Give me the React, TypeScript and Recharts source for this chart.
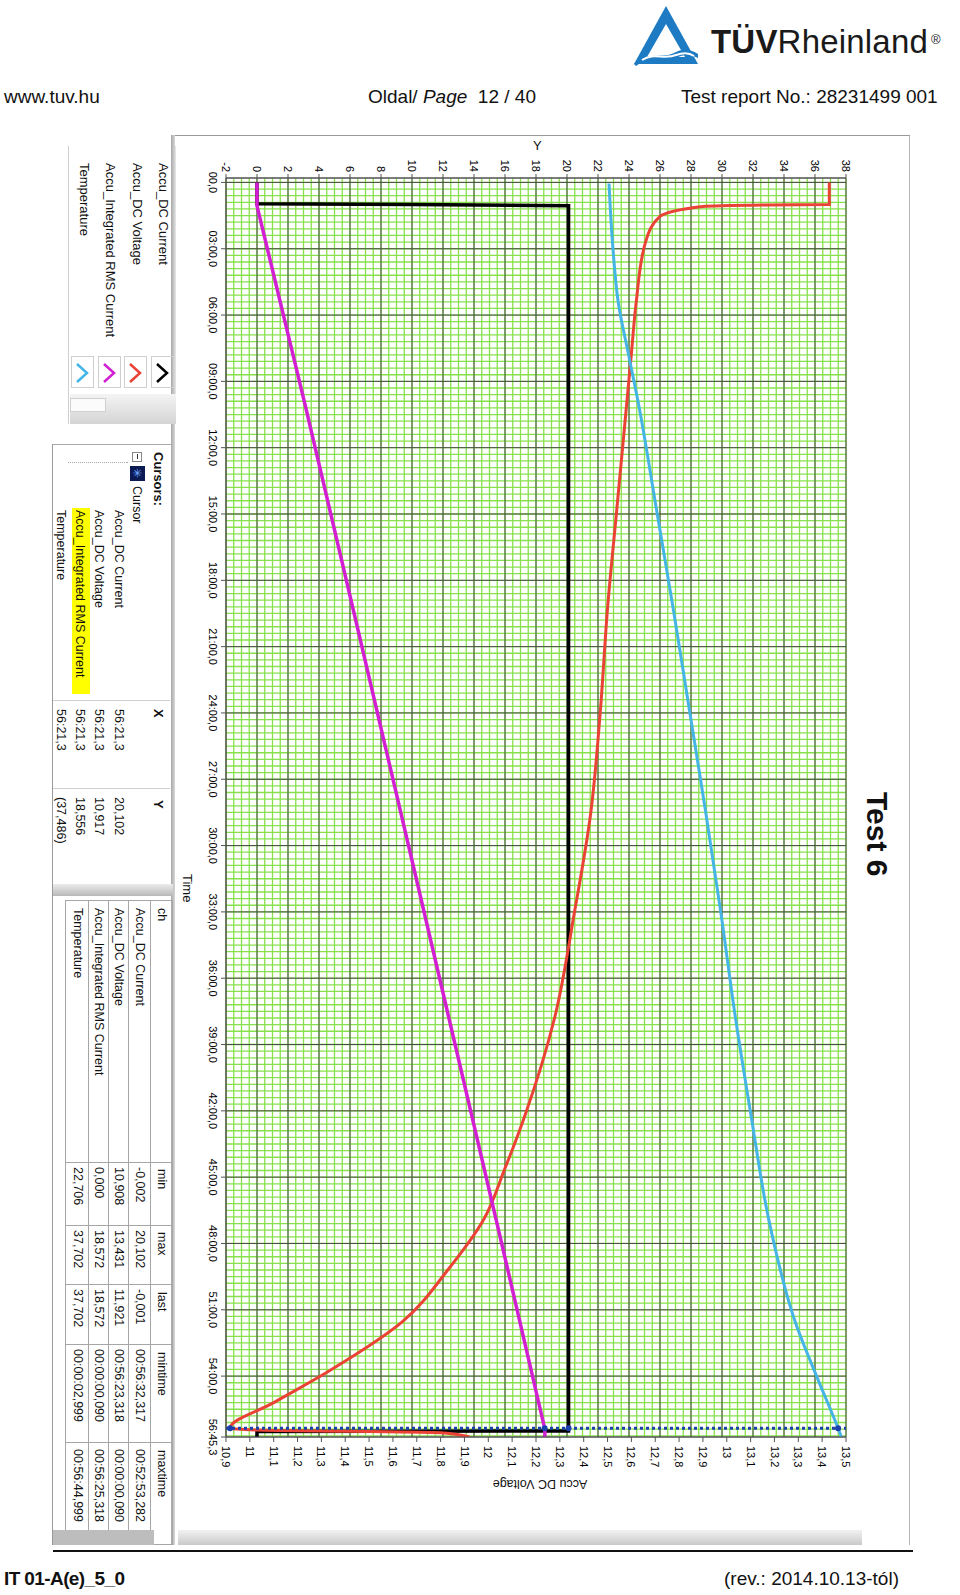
import React from 'react'
import { ComposedChart, Line, XAxis, YAxis, CartesianGrid, ReferenceLine, ReferenceDot } from 'recharts'

// time in minutes, value
const currentPts: [number, number][] = [
  [0, 0], [0.97, 0], [1.0, 10.0], [1.06, 20.1], [20, 20.1], [40, 20.1], [56.355, 20.102], [56.48, 20.1], [56.51, 0], [56.755, -0.001],
]
const voltagePts: [number, number][] = [
  [0, 13.43], [1.0, 13.43], [1.02, 13.18], [1.09, 12.9], [1.54, 12.72], [2.68, 12.66], [5.44, 12.62], [7.75, 12.6],
  [10.05, 12.58], [14.66, 12.54], [19.27, 12.5], [23.88, 12.47], [28.49, 12.43], [33.1, 12.36], [37.71, 12.28],
  [42.32, 12.15], [44.6, 12.07], [46.93, 11.98], [49.2, 11.83], [51.54, 11.64], [53.85, 11.32], [55.2, 11.1],
  [56.355, 10.917], [56.44, 11.03], [56.56, 11.8], [56.755, 11.921],
]
const rmsPts: [number, number][] = [
  [0, 0], [1.06, 0], [10.05, 3.1], [19.27, 6.19], [28.49, 9.27], [37.71, 12.35], [46.93, 15.43], [56.355, 18.556], [56.5, 18.572], [56.755, 18.572],
]
const tempPts: [number, number][] = [
  [0.05, 22.71], [3.14, 22.98], [5.44, 23.31], [7.75, 23.96], [10.05, 24.62], [14.66, 25.74], [19.27, 26.85],
  [23.88, 27.9], [28.49, 28.95], [33.1, 29.94], [37.71, 30.85], [42.32, 31.9], [46.93, 33.02], [51.54, 34.72],
  [54.17, 36.2], [56.355, 37.486], [56.755, 37.702],
]

const timeTicks = [0, 3, 6, 9, 12, 15, 18, 21, 24, 27, 30, 33, 36, 39, 42, 45, 48, 51, 54, 56.755]
const yTicks = [-2, 0, 2, 4, 6, 8, 10, 12, 14, 16, 18, 20, 22, 24, 26, 28, 30, 32, 34, 36, 38]
const voltTicks = [10.9, 11, 11.1, 11.2, 11.3, 11.4, 11.5, 11.6, 11.7, 11.8, 11.9, 12, 12.1, 12.2, 12.3, 12.4, 12.5, 12.6, 12.7, 12.8, 12.9, 13, 13.1, 13.2, 13.3, 13.4, 13.5]

const cursorT = 56.355
const cursorVals = { current: 20.102, voltage: 10.917, rms: 18.556, temp: 37.486 }

const seriesNames = ['Accu_DC Current', 'Accu_DC Voltage', 'Accu_Integrated RMS Current', 'Temperature']
const seriesColors = ['#000000', '#ea4336', '#d21fd2', '#45b5e6']
const cursorX = ['56:21,3', '56:21,3', '56:21,3', '56:21,3']
const cursorY = ['20,102', '10,917', '18,556', '(37,486)']
const statMin = ['-0,002', '10,908', '0,000', '22,706']
const statMax = ['20,102', '13,431', '18,572', '37,702']
const statLast = ['-0,001', '11,921', '18,572', '37,702']
const statMinTime = ['00:56:32,317', '00:56:23,318', '00:00:00,090', '00:00:02,999']
const statMaxTime = ['00:52:53,282', '00:00:00,090', '00:56:25,318', '00:56:44,999']

const toRows = (pts: [number, number][]) => pts.map(([t, v]) => ({ t, v }))

// minor grid positions
const minorT: number[] = []
for (let i = 0; i <= 189; i++) minorT.push(Math.round(i * 0.3 * 100) / 100)
const minorY: number[] = []
for (let i = 0; i <= 80; i++) minorY.push(-2 + i * 0.5)

const fmtTime = (m: number) => {
  const tenths = Math.round(m * 600)
  const mm = Math.floor(tenths / 600)
  const rest = tenths - mm * 600
  const s = `${String(Math.floor(rest / 10)).padStart(2, '0')},${rest % 10}`
  return mm === 0 ? s : `${String(mm).padStart(2, '0')}:${s}`
}
const fmtVolt = (v: number) => {
  const s = v.toFixed(1).replace('.', ',')
  return s.endsWith(',0') ? s.slice(0, -2) : s
}

const FONT = '"Liberation Sans", Arial, sans-serif'
const tickStyle = { fontSize: 11, fill: '#000', fontFamily: FONT }

const Txt = ({ x, y, s = 12.5, b = false, children, style }: any) => (
  <div style={{ position: 'absolute', left: x, top: y - s * 0.62, fontSize: s, lineHeight: `${Math.round(s * 1.25)}px`, fontWeight: b ? 700 : 400, whiteSpace: 'nowrap', ...style }}>{children}</div>
)
const Box = ({ x, y, w, h, style }: any) => (
  <div style={{ position: 'absolute', left: x, top: y, width: w, height: h, ...style }} />
)

function Chevron({ color }: { color: string }) {
  return (
    <svg width={22} height={14} style={{ position: 'absolute', left: 5, top: 4 }}>
      <polyline points="2,12 11,2 20,12" fill="none" stroke={color} strokeWidth={2.5} />
    </svg>
  )
}

function Logo() {
  return (
    <svg width={80} height={64} style={{ position: 'absolute', left: 628, top: 4 }}>
      <polygon points="38,2 6,60 70,60" fill="#1d7bc4" />
      <polygon points="38,20 19,53 57,53" fill="#fff" />
      <path d="M6,60 C20,46 34,56 48,48 C56,44 64,46 70,50 L70,54 C62,50 56,50 48,54 C34,62 20,52 8,62 Z" fill="#1d7bc4" />
      <path d="M14,56 C26,48 36,56 48,51 C56,48 62,49 66,52" fill="none" stroke="#fff" strokeWidth={2} />
    </svg>
  )
}

const rowY = [778, 799, 819, 840]

export default function App() {
  return (
    <div style={{ position: 'absolute', left: 0, top: 0, width: 960, height: 1595, background: '#fff', overflow: 'hidden', fontFamily: FONT, color: '#111' }}>
      {/* page header */}
      <Logo />
      <div style={{ position: 'absolute', left: 711, top: 22, fontSize: 33, lineHeight: '40px', color: '#1a1a1a', letterSpacing: 0.2 }}>
        <b>TÜV</b>Rheinland<sup style={{ fontSize: 13, verticalAlign: 'top', position: 'relative', top: -2, marginLeft: 3 }}>®</sup>
      </div>
      <Txt x={4} y={97} s={19}>www.tuv.hu</Txt>
      <Txt x={368} y={97} s={19}>Oldal/ <i>Page</i>&nbsp; 12 / 40</Txt>
      <Txt x={681} y={97} s={19}>Test report No.: 28231499 001</Txt>

      {/* screenshot, rotated 90deg clockwise */}
      <div style={{ position: 'absolute', left: 918, top: 132, width: 1420, height: 870, transformOrigin: '0 0', transform: 'rotate(90deg)', background: '#fff' }}>
        <Box x={3} y={8} w={1410} h={1} style={{ background: '#b5b5b5' }} />
        <Box x={3} y={8} w={1} h={738} style={{ background: '#9a9a9a' }} />
        <Box x={3} y={743} w={1410} h={4} style={{ background: 'linear-gradient(#d8d8d8, #a8a8a8)' }} />
        <Box x={1398} y={56} w={15} h={684} style={{ background: 'linear-gradient(90deg, #f2f2f2, #c9c9c9)' }} />

        <ComposedChart width={1420} height={870} margin={{ top: 72, right: 55, bottom: 148, left: 0 }} style={{ position: 'absolute', left: 0, top: 0 }}>
          <CartesianGrid yAxisId="y" horizontalValues={minorY} verticalValues={minorT} stroke="#88e04c" strokeWidth={1.3} fill="#ffffff" />
          <CartesianGrid yAxisId="y" horizontalValues={yTicks} verticalValues={[-0.2, ...timeTicks]} stroke="#4a4a4a" strokeWidth={1} />
          <XAxis type="number" dataKey="t" domain={[-0.2, 56.755]} ticks={timeTicks} tickFormatter={fmtTime} interval={0}
            allowDataOverflow height={30} tickSize={5} tickMargin={4} stroke="#555" tick={tickStyle} />
          <YAxis yAxisId="y" type="number" domain={[-2, 38]} ticks={yTicks} interval={0} width={46} tickSize={4}
            tickMargin={2} stroke="#555" tick={tickStyle} allowDataOverflow />
          <YAxis yAxisId="v" orientation="right" type="number" domain={[10.9, 13.5]} ticks={voltTicks} interval={0}
            tickFormatter={fmtVolt} width={60} tickSize={5} tickMargin={4} stroke="#555" tick={tickStyle} allowDataOverflow />
          <Line yAxisId="y" data={toRows(currentPts)} dataKey="v" stroke={seriesColors[0]} strokeWidth={3.5} dot={false} isAnimationActive={false} />
          <Line yAxisId="v" type="monotone" data={toRows(voltagePts)} dataKey="v" stroke={seriesColors[1]} strokeWidth={3} dot={false} isAnimationActive={false} />
          <Line yAxisId="y" data={toRows(rmsPts)} dataKey="v" stroke={seriesColors[2]} strokeWidth={3.5} dot={false} isAnimationActive={false} />
          <Line yAxisId="y" type="monotone" data={toRows(tempPts)} dataKey="v" stroke={seriesColors[3]} strokeWidth={3} dot={false} isAnimationActive={false} />
          <ReferenceLine yAxisId="y" x={cursorT} stroke="#1c3fae" strokeWidth={3} strokeDasharray="3 3" />
          <ReferenceDot yAxisId="y" x={cursorT} y={cursorVals.current} r={3} fill="#1c3fae" stroke="none" />
          <ReferenceDot yAxisId="v" x={cursorT} y={cursorVals.voltage} r={3} fill="#1c3fae" stroke="none" />
          <ReferenceDot yAxisId="y" x={cursorT} y={cursorVals.rms} r={3} fill="#1c3fae" stroke="none" />
          <ReferenceDot yAxisId="y" x={cursorT} y={cursorVals.temp} r={3} fill="#1c3fae" stroke="none" />
        </ComposedChart>

        {/* axis titles */}
        <Txt x={10} y={381} s={13} style={{ transform: 'rotate(-90deg)', transformOrigin: '4px 8px' }}>Y</Txt>
        <Txt x={742} y={731} s={13}>Time</Txt>
        <div style={{ position: 'absolute', left: 1352 - 60, top: 378 - 8, width: 120, textAlign: 'center', fontSize: 12.5, lineHeight: '16px', transform: 'rotate(90deg)' }}>Accu DC Voltage</div>
        <Txt x={660} y={41} s={30} b>Test 6</Txt>

        {/* legend panel */}
        <Box x={14} y={742} w={278} h={106} style={{ borderBottom: '1px solid #cfcfcf', borderTop: '1px solid #e3e3e3' }} />
        {seriesNames.map((n, i) => (
          <React.Fragment key={n}>
            <Txt x={31} y={755 + i * 26.5} s={13}>{n}</Txt>
            <div style={{ position: 'absolute', left: 224, top: 744 + i * 26.5, width: 32, height: 23, border: '1px solid #cfcfcf', boxSizing: 'border-box' }}>
              <Chevron color={seriesColors[i]} />
            </div>
          </React.Fragment>
        ))}
        <Box x={262} y={742} w={30} h={106} style={{ background: 'linear-gradient(90deg, #f4f4f4, #d4d4d4)' }} />
        <Box x={266} y={812} w={12} h={34} style={{ background: '#fbfbfb', border: '1px solid #d0d0d0' }} />

        {/* cursors panel */}
        <Box x={312} y={746} w={1} h={120} style={{ background: '#a9a9a9' }} />
        <Box x={568} y={748} w={1} h={118} style={{ background: '#cfcfcf' }} />
        <Box x={656} y={748} w={1} h={118} style={{ background: '#cfcfcf' }} />
        <Txt x={320} y={760} s={13} b>Cursors:</Txt>
        <Txt x={577} y={760} s={13} b>X</Txt>
        <Txt x={668} y={760} s={13} b>Y</Txt>
        <Box x={320} y={776} w={8} h={8} style={{ border: '1px solid #888', background: '#fff' }} />
        <Box x={322} y={780} w={5} h={1} style={{ background: '#333' }} />
        <Box x={334} y={773} w={15} h={15} style={{ background: '#0b1a52' }} />
        <Txt x={336} y={781} s={12} style={{ color: '#6fa6ff' }}>✳</Txt>
        <Txt x={354} y={781}>Cursor</Txt>
        <Box x={330} y={790} w={1} h={60} style={{ borderLeft: '1px dotted #aaa' }} />
        <Box x={376} y={828} w={186} h={18} style={{ background: '#ffff00' }} />
        {seriesNames.map((n, i) => (
          <React.Fragment key={'c' + n}>
            <Txt x={378} y={799 + i * 19.3}>{n}</Txt>
            <Txt x={577} y={799 + i * 19.3}>{cursorX[i]}</Txt>
            <Txt x={665} y={799 + i * 19.3}>{cursorY[i]}</Txt>
          </React.Fragment>
        ))}

        {/* statistics table */}
        <Box x={752} y={745} w={12} h={121} style={{ background: 'linear-gradient(90deg, #ececec, #b8b8b8)' }} />
        {[745, 767, 789, 809, 829, 852].map((y) => (
          <Box key={'h' + y} x={768} y={y} w={644} h={1} style={{ background: '#a6a6a6' }} />
        ))}
        {[768, 1030, 1093, 1152, 1212, 1310, 1412].map((x) => (
          <Box key={'v' + x} x={x} y={745} w={1} h={108} style={{ background: '#a6a6a6' }} />
        ))}
        <Txt x={776} y={756}>ch</Txt>
        <Txt x={1037} y={756}>min</Txt>
        <Txt x={1100} y={756}>max</Txt>
        <Txt x={1160} y={756}>last</Txt>
        <Txt x={1220} y={756}>mintime</Txt>
        <Txt x={1318} y={756}>maxtime</Txt>
        {seriesNames.map((n, i) => (
          <React.Fragment key={'s' + n}>
            <Txt x={776} y={rowY[i]}>{n}</Txt>
            <Txt x={1035} y={rowY[i]}>{statMin[i]}</Txt>
            <Txt x={1098} y={rowY[i]}>{statMax[i]}</Txt>
            <Txt x={1157} y={rowY[i]}>{statLast[i]}</Txt>
            <Txt x={1217} y={rowY[i]}>{statMinTime[i]}</Txt>
            <Txt x={1317} y={rowY[i]}>{statMaxTime[i]}</Txt>
          </React.Fragment>
        ))}
        <Box x={1398} y={764} w={15} h={102} style={{ background: '#bdbdbd' }} />
        <Box x={312} y={865} w={1101} h={1} style={{ background: '#9a9a9a' }} />
      </div>

      {/* page footer */}
      <Box x={53} y={1550} w={860} h={2} style={{ background: '#111' }} />
      <Txt x={4} y={1579} s={19} b style={{ letterSpacing: -0.6 }}>IT 01-A(e)_5_0</Txt>
      <Txt x={724} y={1579} s={19}>(rev.: 2014.10.13-tól)</Txt>
    </div>
  )
}
